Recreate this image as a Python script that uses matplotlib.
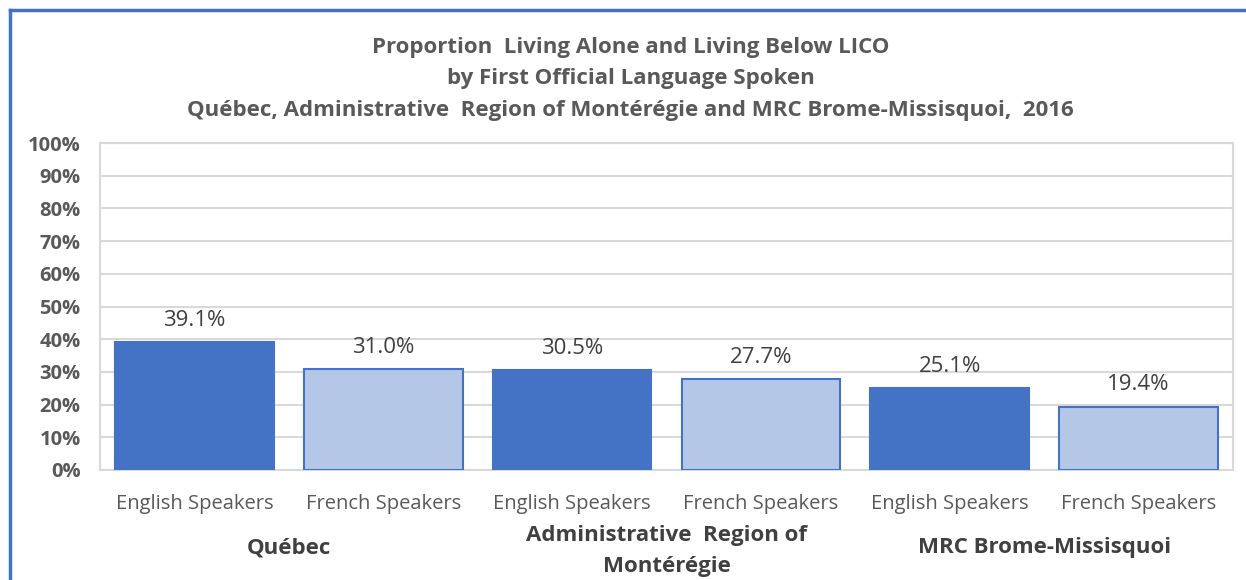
import matplotlib
matplotlib.use('Agg')
import matplotlib.pyplot as plt
from matplotlib.lines import Line2D
import numpy as np

# dati
regions = ['Québec', 'Administrative  Region of\nMontérégie', 'MRC Brome-Missisquoi']
languages = ['English Speakers', 'French Speakers']
english = [39.1, 30.5, 25.1]
french = [31.0, 27.7, 19.4]
title = ('Proportion  Living Alone and Living Below LICO\n'
         'by First Official Language Spoken\n'
         'Québec, Administrative  Region of Montérégie and MRC Brome-Missisquoi,  2016')

plt.rcParams['font.family'] = ['Open Sans', 'DejaVu Sans']
dark = '#4472C4'
light = '#B4C7E7'
txt = '#595959'

vals = []
for e, f in zip(english, french):
    vals += [e, f]
x = np.arange(len(vals))
colors = [dark, light] * len(regions)

fig = plt.figure(figsize=(12.46, 5.8), dpi=100)
ax = fig.add_axes([0.0803, 0.1897, 0.9093, 0.5637])

ax.bar(x, vals, width=0.84, color=colors, edgecolor=dark, linewidth=1.5, zorder=3)
for xi, v in zip(x, vals):
    ax.annotate(f'{v:.1f}%', (xi, v), xytext=(0, 8), textcoords='offset points',
                ha='center', va='bottom', fontsize=16, color='#404040')

ax.set_xlim(-0.5, len(vals) - 0.5)
ax.set_ylim(0, 100)
ax.set_yticks(np.arange(0, 101, 10))
ax.set_yticklabels([f'{t}%' for t in range(0, 101, 10)], fontweight='bold',
                   fontsize=14.5, color=txt)
ax.yaxis.grid(True, color='#D9D9D9', lw=1.5, zorder=0)
for s in ax.spines.values():
    s.set_color('#D9D9D9')
    s.set_linewidth(1.5)
ax.tick_params(axis='y', length=0, pad=14)
ax.set_xticks(x)
ax.set_xticklabels(languages * len(regions), fontsize=14.5, color=txt)
ax.tick_params(axis='x', length=0, pad=17)

for i, r in enumerate(regions):
    yy = -0.2477 if '\n' in r else -0.2385
    ax.text(2 * i + 0.5, yy, r,
            transform=ax.get_xaxis_transform(), ha='center', va='center',
            fontsize=16, fontweight='bold', color='#404040', linespacing=1.62)

fig.text(0.506, 0.864, title, ha='center', va='center', fontsize=16,
         fontweight='bold', color=txt, linespacing=1.65)

# bordo blu del riquadro
fig.add_artist(Line2D([0.008, 1.0], [0.983, 0.983], color=dark, lw=2.5,
                      transform=fig.transFigure))
fig.add_artist(Line2D([0.008, 0.008], [0.0, 0.983], color=dark, lw=2.5,
                      transform=fig.transFigure))

fig.savefig('out.png', dpi=100)
